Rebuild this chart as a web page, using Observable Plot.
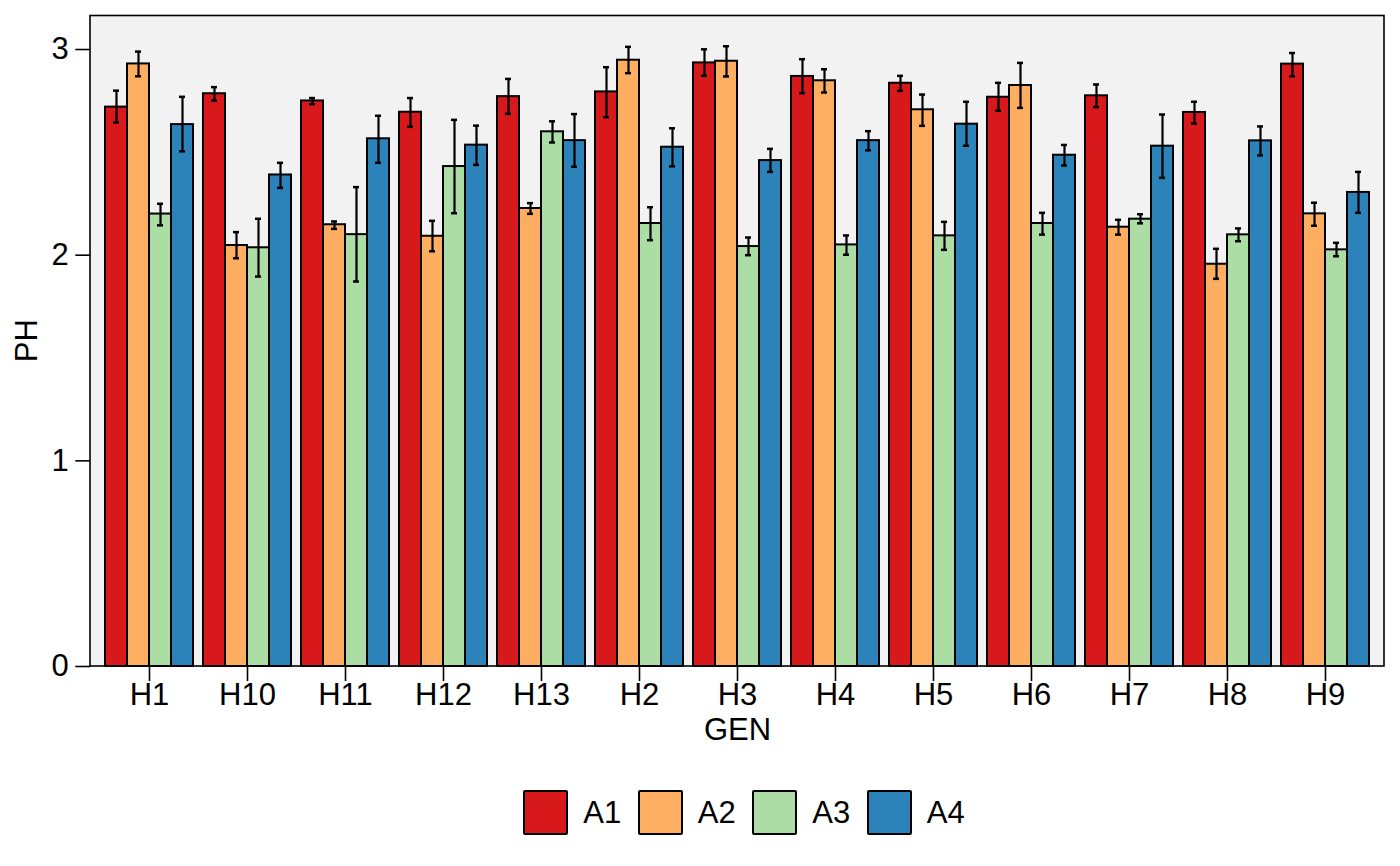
<!DOCTYPE html>
<html>
<head>
<meta charset="utf-8">
<script src="https://cdn.jsdelivr.net/npm/d3@7"></script>
<script src="https://cdn.jsdelivr.net/npm/@observablehq/plot@0.6"></script>
<style>
  html, body { margin: 0; padding: 0; background: #ffffff; }
  body { width: 1400px; height: 866px; overflow: hidden; font-family: "Liberation Sans", Arial, sans-serif; position: relative; }
  #legend { display: flex; justify-content: center; align-items: center; margin-top: 30px; margin-left: 88px; }
  .item { display: flex; align-items: center; margin: 0 8.3px; }
  .key { width: 41px; height: 41px; border: 2px solid #000; border-radius: 2px; }
  .lab { font-size: 31px; margin-left: 15px; color: #000; }
</style>
</head>
<body>
<div id="chart"></div>
<div id="legend"></div>
<script>
const groups = ["H1","H10","H11","H12","H13","H2","H3","H4","H5","H6","H7","H8","H9"];
const series = ["A1","A2","A3","A4"];
const colors = ["#d7191c","#fdae61","#abdda4","#2b83ba"];
const yTicks = [0, 1, 2, 3];

const a1Mean = [2.720, 2.785, 2.750, 2.695, 2.771, 2.794, 2.935, 2.869, 2.836, 2.768, 2.775, 2.694, 2.929];
const a1Lo   = [2.645, 2.752, 2.734, 2.624, 2.687, 2.671, 2.872, 2.788, 2.799, 2.702, 2.720, 2.640, 2.870];
const a1Hi   = [2.800, 2.817, 2.764, 2.764, 2.857, 2.914, 3.001, 2.953, 2.872, 2.838, 2.830, 2.746, 2.983];

const a2Mean = [2.930, 2.047, 2.148, 2.092, 2.227, 2.948, 2.943, 2.848, 2.707, 2.825, 2.136, 1.956, 2.201];
const a2Lo   = [2.870, 1.985, 2.128, 2.019, 2.201, 2.885, 2.869, 2.791, 2.629, 2.716, 2.100, 1.885, 2.143];
const a2Hi   = [2.990, 2.112, 2.164, 2.167, 2.253, 3.013, 3.016, 2.904, 2.781, 2.935, 2.172, 2.031, 2.255];

const a3Mean = [2.200, 2.036, 2.100, 2.431, 2.600, 2.154, 2.042, 2.050, 2.094, 2.154, 2.175, 2.099, 2.026];
const a3Lo   = [2.145, 1.896, 1.872, 2.204, 2.548, 2.073, 2.000, 2.002, 2.026, 2.100, 2.155, 2.068, 1.995];
const a3Hi   = [2.250, 2.177, 2.331, 2.658, 2.651, 2.233, 2.086, 2.096, 2.162, 2.206, 2.199, 2.130, 2.060];

const a4Mean = [2.635, 2.390, 2.566, 2.535, 2.557, 2.525, 2.460, 2.557, 2.637, 2.486, 2.530, 2.556, 2.305];
const a4Lo   = [2.505, 2.327, 2.449, 2.439, 2.430, 2.432, 2.405, 2.510, 2.532, 2.436, 2.376, 2.485, 2.206];
const a4Hi   = [2.770, 2.449, 2.678, 2.630, 2.686, 2.617, 2.517, 2.603, 2.746, 2.536, 2.684, 2.626, 2.405];

const means = [a1Mean, a2Mean, a3Mean, a4Mean];
const los = [a1Lo, a2Lo, a3Lo, a4Lo];
const his = [a1Hi, a2Hi, a3Hi, a4Hi];

const data = [];
groups.forEach((g, gi) => {
  series.forEach((s, si) => {
    data.push({GEN: g, A: s, PH: means[si][gi], lo: los[si][gi], hi: his[si][gi]});
  });
});

const W = 1400, H = 760;
const mL = 90, mR = 16, mT = 15.5, mB = 94;
const padOuter = 0.15, padInner = 0.1;
// offset of the first facet from the panel edge (y axis is anchored to the first facet)
const facetOffset = padOuter * (W - mL - mR) / (groups.length - padInner + 2 * padOuter);

const chart = Plot.plot({
  width: W,
  height: H,
  marginLeft: mL,
  marginRight: mR,
  marginTop: mT,
  marginBottom: mB,
  style: {fontFamily: "'Liberation Sans', Arial, sans-serif", fontSize: "31px", color: "#000", background: "transparent", overflow: "visible"},
  fx: {domain: groups, paddingInner: padInner, paddingOuter: padOuter},
  x: {domain: series, axis: null, padding: 0},
  y: {domain: [0, 3.163]},
  color: {domain: series, range: colors},
  marks: [
    Plot.barY(data, {fx: "GEN", x: "A", y: "PH", fill: "A", stroke: "#000", strokeWidth: 2}),
    Plot.ruleX(data, {fx: "GEN", x: "A", y1: "lo", y2: "hi", stroke: "#000", strokeWidth: 2.2}),
    Plot.tickY(data, {fx: "GEN", x: "A", y: "lo", stroke: "#000", strokeWidth: 2.5, insetLeft: 8, insetRight: 8}),
    Plot.tickY(data, {fx: "GEN", x: "A", y: "hi", stroke: "#000", strokeWidth: 2.5, insetLeft: 8, insetRight: 8}),
    Plot.axisY({ticks: yTicks, tickFormat: d3.format("d"), tickSize: 15, tickPadding: 7, strokeWidth: 1.6, dx: -facetOffset, label: null}),
    Plot.axisFx({anchor: "bottom", tickSize: 15, tickPadding: 1, strokeWidth: 1.6, label: "GEN", labelAnchor: "center", labelOffset: 73, labelArrow: false})
  ]
});

document.getElementById("chart").appendChild(chart);

const svg = d3.select(chart.tagName.toLowerCase() === "svg" ? chart : chart.querySelector("svg"));
// panel background and border
svg.insert("rect", ":first-child")
  .attr("x", mL).attr("y", mT)
  .attr("width", W - mL - mR).attr("height", H - mT - mB)
  .attr("fill", "#f2f2f2");
svg.append("rect")
  .attr("x", mL).attr("y", mT)
  .attr("width", W - mL - mR).attr("height", H - mT - mB)
  .attr("fill", "none").attr("stroke", "#000").attr("stroke-width", 1.6);
// y axis title
svg.append("text")
  .attr("transform", `translate(37,${(mT + H - mB) / 2}) rotate(-90)`)
  .attr("text-anchor", "middle")
  .attr("font-family", "'Liberation Sans', Arial, sans-serif")
  .attr("font-size", 31)
  .attr("fill", "#000")
  .text("PH");

// legend
const leg = document.getElementById("legend");
series.forEach((s, i) => {
  const it = document.createElement("div");
  it.className = "item";
  const k = document.createElement("div");
  k.className = "key";
  k.style.background = colors[i];
  const l = document.createElement("span");
  l.className = "lab";
  l.textContent = s;
  it.appendChild(k); it.appendChild(l);
  leg.appendChild(it);
});
</script>
</body>
</html>
